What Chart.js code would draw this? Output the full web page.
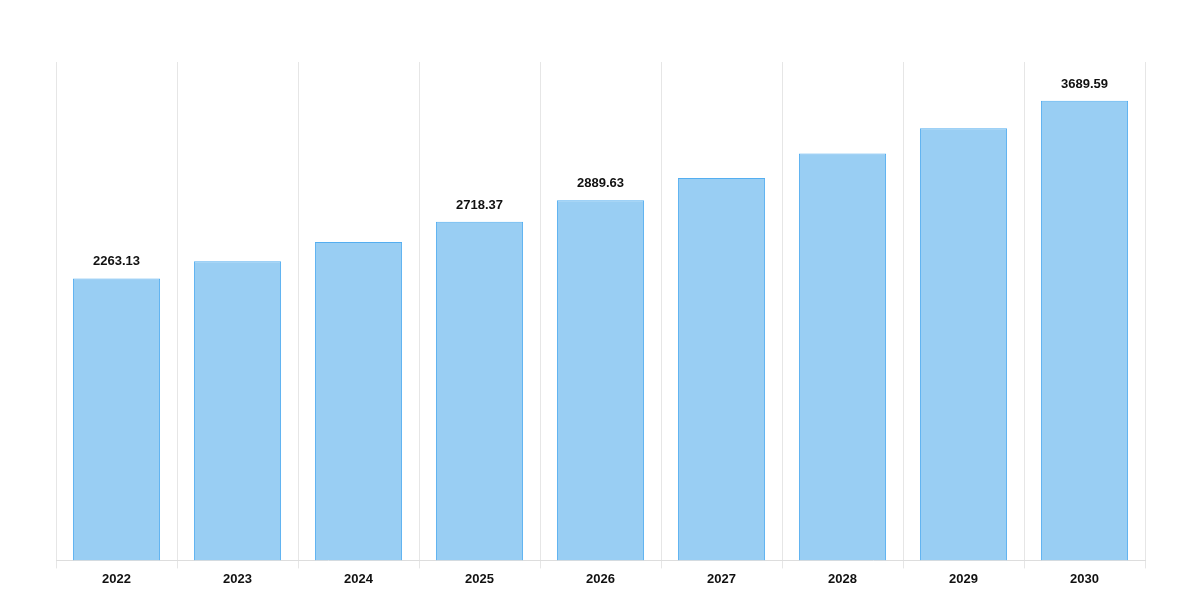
<!DOCTYPE html>
<html>
<head>
<meta charset="utf-8">
<script src="https://cdn.jsdelivr.net/npm/chart.js@4"></script>
<style>
  body { margin: 0; background: #fff; }
  #wrap { width: 1200px; height: 600px; }
</style>
</head>
<body>
<div id="wrap"><canvas id="chart"></canvas></div>
<script>
var years = ['2022', '2023', '2024', '2025', '2026', '2027', '2028', '2029', '2030'];
var values = [2263.13, 2400, 2555, 2718.37, 2889.63, 3069, 3265, 3469, 3689.59];
var labelled = ['2022', '2025', '2026', '2030'];

var valueLabels = {
    id: 'valueLabels',
    afterDatasetsDraw: function (chart) {
        var ctx = chart.ctx;
        var meta = chart.getDatasetMeta(0);
        ctx.save();
        ctx.font = 'bold 13px "Liberation Sans", Arial, sans-serif';
        ctx.fillStyle = '#111';
        ctx.textAlign = 'center';
        ctx.textBaseline = 'bottom';
        meta.data.forEach(function (bar, i) {
            if (labelled.indexOf(years[i]) < 0) return;
            ctx.fillText(values[i].toFixed(2), bar.x, bar.y - 10);
        });
        ctx.restore();
    }
};

var ctx = document.getElementById('chart').getContext('2d');
var myChart = new Chart(ctx, {
    type: 'bar',
    data: {
        labels: years,
        datasets: [{
            data: values,
            backgroundColor: 'rgba(153, 206, 243, 1)',
            borderColor: 'rgba(84, 174, 240, 1)',
            borderWidth: 1,
            barPercentage: 0.72,
            categoryPercentage: 1
        }]
    },
    options: {
        responsive: false,
        animation: false,
        layout: { padding: { left: 56, right: 55, top: 62, bottom: 10 } },
        plugins: { legend: { display: false }, tooltip: { enabled: false } },
        scales: {
            x: {
                grid: { color: '#e6e6e6', offset: true, tickLength: 8 },
                border: { color: '#ddd' },
                ticks: { color: '#111', font: { weight: 'bold', size: 13, family: '"Liberation Sans", Arial, sans-serif' } }
            },
            y: {
                display: false,
                beginAtZero: true,
                max: 4000
            }
        }
    },
    plugins: [valueLabels]
});
myChart.resize(1200, 600);
</script>
</body>
</html>
